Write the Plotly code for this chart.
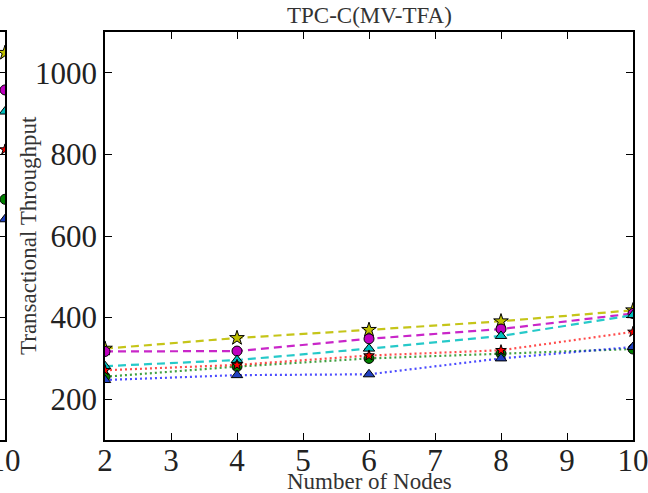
import plotly.graph_objects as go

# Number of nodes on the x axis
nodes = [2, 4, 6, 8, 10]

# Transactional throughput per configuration (main panel)
tput_yellow = [324, 350, 370, 391, 418]
tput_magenta = [317, 318, 348, 372, 410]
tput_cyan = [281, 296, 324, 355, 406]
tput_red = [271, 284, 307, 320, 365]
tput_green = [255, 280, 300, 312, 323]
tput_blue = [247, 259, 261, 300, 328]

# Neighbouring panel: values at 10 nodes
prev_nodes = [10]
prev_yellow = [1049]
prev_magenta = [958]
prev_cyan = [905]
prev_red = [812]
prev_green = [690]
prev_blue = [641]

x_ticks = [2, 3, 4, 5, 6, 7, 8, 9, 10]
y_ticks = [200, 400, 600, 800, 1000]

FONT = "Liberation Serif"
W, H = 648, 493
ML, MR, MT, MB = 0, 15, 32, 53
PW = W - ML - MR          # plotting width in pixels
MAIN_LEFT = 105           # pixel where the main panel starts
SIDE_RIGHT = 5            # pixel where the neighbouring panel ends

series = [
    (tput_yellow, prev_yellow, "rgba(191,191,0,0.9)", "#bfbf00", "star", 11, "dash"),
    (tput_magenta, prev_magenta, "rgba(191,0,191,0.85)", "#bf00bf", "circle", 10, "dash"),
    (tput_cyan, prev_cyan, "rgba(0,191,191,0.85)", "#00bfbf", "triangle-up", 10, "dash"),
    (tput_green, prev_green, "rgba(0,128,0,0.75)", "#008000", "circle", 10, "dot"),
    (tput_red, prev_red, "rgba(255,0,0,0.7)", "#ff0000", "star", 8, "dot"),
    (tput_blue, prev_blue, "rgba(0,0,255,0.7)", "#2040c0", "triangle-up", 10, "dot"),
]

fig = go.Figure()
for main_vals, prev_vals, lc, mc, sym, size, dash in series:
    dash_style = "8px,5px" if dash == "dash" else "2px,3px"
    fig.add_trace(go.Scatter(
        x=nodes, y=main_vals, mode="lines+markers",
        line=dict(color=lc, width=2.2, dash=dash_style),
        marker=dict(symbol=sym, size=size, color=mc,
                    line=dict(color="black", width=1)),
        xaxis="x", yaxis="y", showlegend=False,
    ))
    fig.add_trace(go.Scatter(
        x=prev_nodes, y=prev_vals, mode="markers",
        marker=dict(symbol=sym, size=size, color=mc,
                    line=dict(color="black", width=1)),
        xaxis="x2", yaxis="y2", showlegend=False,
    ))

axis_common = dict(
    showline=True, linecolor="black", linewidth=1.5, mirror="ticks",
    ticks="inside", ticklen=7, tickwidth=1.2, tickcolor="black",
    showgrid=False, zeroline=False, ticklabeloverflow="allow",
    automargin=False,
)
tick_font = dict(family=FONT, size=31, color="#222")

fig.update_layout(
    width=W, height=H,
    margin=dict(l=ML, r=MR, t=MT, b=MB, autoexpand=False),
    paper_bgcolor="white", plot_bgcolor="white",
    xaxis=dict(domain=[MAIN_LEFT / PW, 1], range=[2, 10], tickvals=x_ticks,
               anchor="y", tickfont=tick_font, ticklabelstandoff=-8,
               **axis_common),
    yaxis=dict(range=[100, 1100], tickvals=y_ticks, anchor="x",
               tickfont=tick_font, **axis_common),
    xaxis2=dict(domain=[0, SIDE_RIGHT / PW], range=[9.92, 10], tickvals=[10],
                anchor="y2", tickfont=tick_font, ticklabelstandoff=-8,
                **axis_common),
    yaxis2=dict(range=[100, 1100], tickvals=y_ticks, anchor="x2",
                showticklabels=False, **axis_common),
)

cx = (MAIN_LEFT + PW) / 2 / PW
fig.update_layout(
    annotations=[
        dict(text="TPC-C(MV-TFA)", x=cx, y=1, xref="paper", yref="paper",
             xanchor="center", yanchor="bottom", yshift=2, showarrow=False,
             font=dict(family=FONT, size=23, color="#333")),
        dict(text="Number of Nodes", x=cx, y=0, xref="paper", yref="paper",
             xanchor="center", yanchor="top", yshift=-27, showarrow=False,
             font=dict(family=FONT, size=23, color="#333")),
        dict(text="Transactional Throughput", x=28 / PW, y=0.5, xref="paper",
             yref="paper", xanchor="center", yanchor="middle", textangle=-90,
             showarrow=False, font=dict(family=FONT, size=23, color="#333")),
        dict(text="Transactional Throughput", x=1, y=0.5, xref="paper",
             yref="paper", xanchor="center", yanchor="middle", xshift=27,
             textangle=-90, showarrow=False,
             font=dict(family=FONT, size=23, color="#555")),
    ],
)

fig.write_html("out.html")
